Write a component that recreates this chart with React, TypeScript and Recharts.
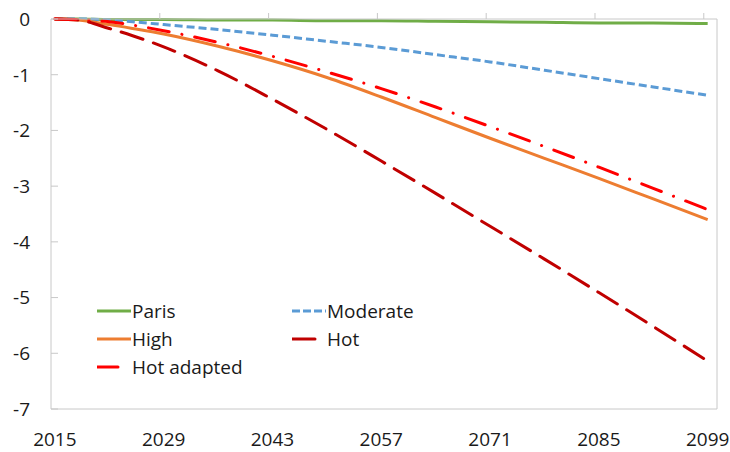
import { Legend, Line, LineChart, XAxis, YAxis } from 'recharts'

const years = [2015, 2018, 2022, 2025, 2029, 2036, 2043, 2050, 2057, 2064, 2071, 2078, 2085, 2092, 2099]

const paris = [0, 0, -0.01, -0.01, -0.01, -0.02, -0.02, -0.03, -0.03, -0.04, -0.05, -0.06, -0.07, -0.07, -0.08]
const moderate = [0, 0, -0.02, -0.05, -0.1, -0.19, -0.29, -0.4, -0.51, -0.64, -0.77, -0.92, -1.07, -1.22, -1.37]
const high = [0, -0.02, -0.1, -0.17, -0.27, -0.49, -0.75, -1.05, -1.4, -1.77, -2.14, -2.5, -2.86, -3.23, -3.6]
const hot = [0, -0.02, -0.17, -0.3, -0.5, -0.93, -1.44, -1.98, -2.55, -3.13, -3.72, -4.31, -4.91, -5.52, -6.14]
const hotAdapted = [0, -0.01, -0.05, -0.11, -0.21, -0.42, -0.67, -0.95, -1.25, -1.58, -1.93, -2.29, -2.66, -3.04, -3.42]

const xTicks = [2015, 2029, 2043, 2057, 2071, 2085, 2099]
const xTickMarks = [2028.5, 2042.5, 2056.5, 2070.5, 2084.5, 2098.5]
const yTicks = [0, -1, -2, -3, -4, -5, -6, -7]

const series = [
  { key: 'paris', name: 'Paris', color: '#70ad47', dash: undefined, cap: 'butt' },
  { key: 'moderate', name: 'Moderate', color: '#5b9bd5', dash: '8 4', cap: 'butt' },
  { key: 'high', name: 'High', color: '#ed7d31', dash: undefined, cap: 'butt' },
  { key: 'hot', name: 'Hot', color: '#c00000', dash: '23 11', cap: 'round' },
  { key: 'hotAdapted', name: 'Hot adapted', color: '#ff0000', dash: '21 13 0.1 13', cap: 'round' },
]

const data = years.map((year, i) => ({
  year,
  paris: paris[i],
  moderate: moderate[i],
  high: high[i],
  hot: hot[i],
  hotAdapted: hotAdapted[i],
}))

const font = '"Open Sans", sans-serif'
const axisGray = '#c8c8c8'
const textColor = '#1a1a1a'

// order in the legend grid: two columns
const legendOrder = ['paris', 'moderate', 'high', 'hot', 'hotAdapted']

// y labels right-aligned a bit left of the axis, like the excel original
function YTick(props: any) {
  const { y, payload } = props
  return (
    <text x={30} y={y} dy="0.36em" textAnchor="end" fontFamily={font} fontSize={19} fill={textColor}>
      {payload.value}
    </text>
  )
}

function LegendBox() {
  return (
    <div
      style={{
        display: 'grid',
        gridTemplateColumns: '195px 150px',
        rowGap: 4,
        fontFamily: font,
        fontSize: 19,
        color: textColor,
      }}
    >
      {legendOrder.map((k) => {
        const s = series.find((x) => x.key === k)!
        return (
          <div key={k} style={{ display: 'flex', alignItems: 'center', height: 24 }}>
            <svg width={35} height={10} style={{ flexShrink: 0 }}>
              <line
                x1={0}
                y1={5}
                x2={34}
                y2={5}
                stroke={s.color}
                strokeWidth={3}
                strokeDasharray={s.dash === '8 4' ? '8 3' : s.dash}
                strokeLinecap={s.cap as any}
              />
            </svg>
            <span style={{ whiteSpace: 'nowrap' }}>{s.name}</span>
          </div>
        )
      })}
    </div>
  )
}

export default function App() {
  return (
    <div style={{ position: 'absolute', left: 0, top: 0, width: 730, height: 452, background: '#fff' }}>
      <LineChart width={730} height={452} data={data} margin={{ top: 12, right: 12, bottom: 0, left: 0 }}>
        <XAxis
          xAxisId="top"
          orientation="top"
          dataKey="year"
          type="number"
          domain={[2014.5, 2100.2]}
          ticks={xTickMarks}
          allowDataOverflow
          height={7}
          tickSize={6}
          tick={() => <g />}
          axisLine={{ stroke: axisGray }}
          tickLine={{ stroke: axisGray }}
        />
        <XAxis
          dataKey="year"
          type="number"
          domain={[2014.5, 2100.2]}
          ticks={xTicks}
          allowDataOverflow
          height={43}
          tickSize={0}
          tickMargin={24}
          tickLine={false}
          axisLine={{ stroke: axisGray }}
          tick={{ fontFamily: font, fontSize: 19, fill: textColor }}
          interval={0}
        />
        <YAxis
          type="number"
          domain={[-7, 0]}
          ticks={yTicks}
          width={51}
          tickSize={-7}
          axisLine={{ stroke: axisGray }}
          tickLine={{ stroke: axisGray }}
          tick={<YTick />}
          interval={0}
        />
        <YAxis
          yAxisId="right"
          orientation="right"
          type="number"
          domain={[-7, 0]}
          width={1}
          tick={false}
          tickLine={false}
          axisLine={{ stroke: axisGray }}
        />
        {series.map((s) => (
          <Line
            key={s.key}
            dataKey={s.key}
            name={s.name}
            type="monotone"
            stroke={s.color}
            strokeWidth={3}
            strokeDasharray={s.dash}
            strokeLinecap={s.cap as any}
            dot={false}
            activeDot={false}
            isAnimationActive={false}
          />
        ))}
        <Legend
          layout="horizontal"
          verticalAlign="middle"
          align="center"
          wrapperStyle={{ left: 97, top: 299, width: 360, height: 84 }}
          content={() => <LegendBox />}
        />
      </LineChart>
    </div>
  )
}
